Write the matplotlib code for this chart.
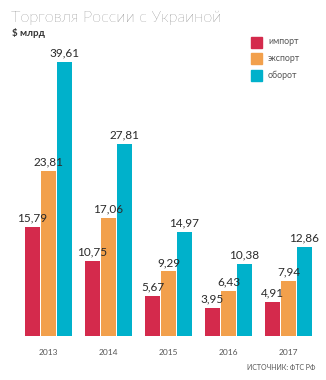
import matplotlib
matplotlib.use("Agg")
import matplotlib.pyplot as plt
import numpy as np

years = ["2013", "2014", "2015", "2016", "2017"]
series = ["импорт", "экспорт", "оборот"]
imports = [15.79, 10.75, 5.67, 3.95, 4.91]
exports = [23.81, 17.06, 9.29, 6.43, 7.94]
turnover = [39.61, 27.81, 14.97, 10.38, 12.86]
colors = ["#d42a4c", "#f2a04c", "#00b1cb"]

plt.rcParams['font.family'] = ['Lato', 'DejaVu Sans']

W, H = 326, 380
fig = plt.figure(figsize=(W / 100, H / 100), dpi=100)
fig.patch.set_facecolor("white")

# axes placed in pixel units: groups 60px apart, baseline at y=335
left, right, base, top = 18.5, 318.5, 335.5, 59.5
ax = fig.add_axes([left / W, (H - base) / H, (right - left) / W, (base - top) / H])
ax.set_xlim(-0.5, 4.5)
ax.set_ylim(0, 40)
ax.axis("off")

x = np.arange(len(years))
bw = 14.5 / 60
step = 16 / 60
for i, (vals, c) in enumerate(zip([imports, exports, turnover], colors)):
    pos = x + (i - 1) * step
    ax.bar(pos, vals, width=bw, color=c, linewidth=0)
    for px, v in zip(pos, vals):
        ax.annotate(f"{v:.2f}".replace(".", ","), (px, v), xytext=(0, 2.5),
                    textcoords="offset points", ha="center", va="bottom",
                    fontsize=8.5, color="#2a2a2a")

for xi, yr in zip(x, years):
    ax.annotate(yr, (xi, 0), xytext=(0, -12), textcoords="offset points",
                ha="center", va="center", fontsize=6, color="#555555")

fig.text(11 / W, 1 - 18 / H, "Торговля России с Украиной", fontsize=11.8,
         fontweight="light", color="#444444", va="center", ha="left")
fig.text(12 / W, 1 - 33 / H, "$ млрд", fontsize=7, fontweight="bold",
         color="#333333", va="center", ha="left")

# legend drawn as squares with labels
for k, (name, c) in enumerate(zip(series, colors)):
    yc = 42 + k * 16.5
    fig.patches.append(plt.Rectangle((251 / W, 1 - (yc + 5.5) / H), 11 / W, 11 / H,
                                     transform=fig.transFigure, color=c, figure=fig))
    fig.text(268 / W, 1 - yc / H, name, fontsize=6.3, color="#555555",
             va="center", ha="left")

fig.text(315 / W, 1 - 368 / H, "ИСТОЧНИК: ФТС РФ", fontsize=5, color="#555555",
         va="center", ha="right")

fig.savefig("out.png", dpi=100, facecolor="white")
